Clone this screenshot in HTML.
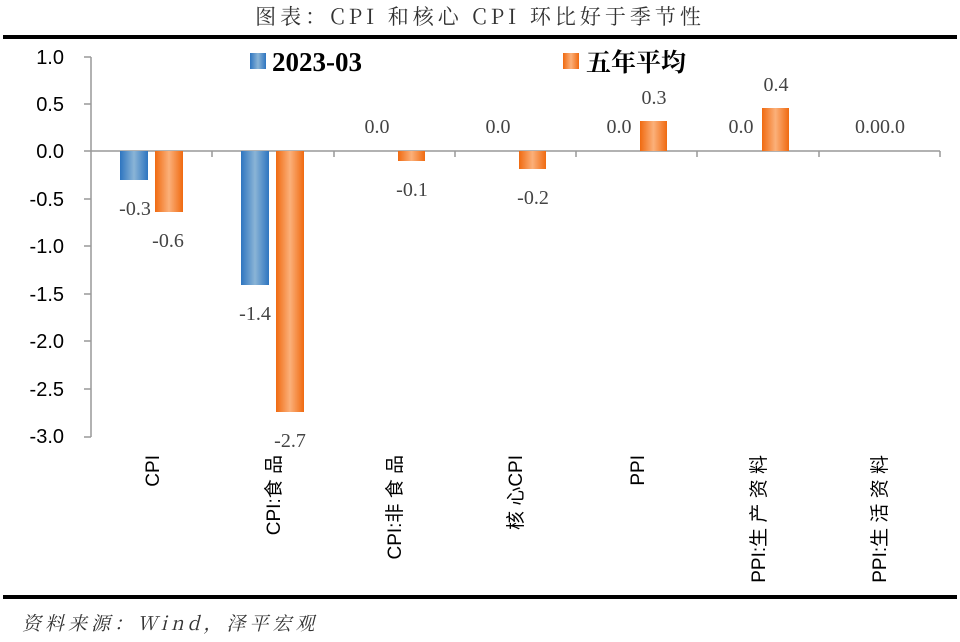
<!DOCTYPE html>
<html><head><meta charset="utf-8"><style>
body{margin:0;background:#fff;}
svg{display:block;}
</style></head><body>
<svg width="960" height="642" xmlns="http://www.w3.org/2000/svg">
<defs>
<linearGradient id="b" x1="0" x2="1" y1="0" y2="0">
<stop offset="0" stop-color="#2e75c0"/><stop offset="0.5" stop-color="#8ab4d6"/><stop offset="1" stop-color="#2e75c0"/></linearGradient>
<linearGradient id="o" x1="0" x2="1" y1="0" y2="0">
<stop offset="0" stop-color="#f06a10"/><stop offset="0.5" stop-color="#fbb07a"/><stop offset="1" stop-color="#f06a10"/></linearGradient>
</defs>
<text x="480" y="24" text-anchor="middle" font-family="'Noto Serif CJK SC','Liberation Serif',serif" font-size="21" letter-spacing="4" fill="#333">图表：CPI 和核心 CPI 环比好于季节性</text>
<rect x="3" y="35" width="954" height="4" fill="#000"/>
<rect x="3" y="595" width="954" height="4" fill="#000"/>
<text x="22" y="630" font-family="'Noto Serif CJK SC',serif" font-style="italic" font-size="19" letter-spacing="4" fill="#333">资料来源：Wind，泽平宏观</text>
<g font-family="'Liberation Sans',sans-serif" font-size="20" fill="#000" text-anchor="end">
<text x="64" y="64">1.0</text><text x="64" y="111">0.5</text><text x="64" y="158">0.0</text>
<text x="64" y="206">-0.5</text><text x="64" y="253">-1.0</text><text x="64" y="301">-1.5</text>
<text x="64" y="348">-2.0</text><text x="64" y="396">-2.5</text><text x="64" y="443">-3.0</text>
</g>
<g stroke="#999" stroke-width="1.5">
<line x1="91" y1="57" x2="91" y2="437"/>
<line x1="84" y1="57" x2="91" y2="57"/><line x1="84" y1="104" x2="91" y2="104"/><line x1="84" y1="151" x2="91" y2="151"/>
<line x1="84" y1="199" x2="91" y2="199"/><line x1="84" y1="246" x2="91" y2="246"/><line x1="84" y1="294" x2="91" y2="294"/>
<line x1="84" y1="341" x2="91" y2="341"/><line x1="84" y1="389" x2="91" y2="389"/><line x1="84" y1="437" x2="91" y2="437"/>
<line x1="91" y1="151" x2="940" y2="151"/>
<line x1="212" y1="151" x2="212" y2="157"/><line x1="334" y1="151" x2="334" y2="157"/><line x1="455" y1="151" x2="455" y2="157"/>
<line x1="576" y1="151" x2="576" y2="157"/><line x1="697" y1="151" x2="697" y2="157"/><line x1="819" y1="151" x2="819" y2="157"/><line x1="940" y1="151" x2="940" y2="157"/>
</g>
<rect x="120" y="151" width="28" height="29" fill="url(#b)"/>
<rect x="155" y="151" width="28" height="61" fill="url(#o)"/>
<rect x="241" y="151" width="28" height="134" fill="url(#b)"/>
<rect x="276" y="151" width="28" height="261" fill="url(#o)"/>
<rect x="398" y="151" width="27" height="10" fill="url(#o)"/>
<rect x="519" y="151" width="27" height="18" fill="url(#o)"/>
<rect x="640" y="121" width="27" height="30" fill="url(#o)"/>
<rect x="762" y="108" width="27" height="43" fill="url(#o)"/>
<g font-family="'Liberation Serif',serif" font-size="20" fill="#444" text-anchor="middle">
<text x="135" y="215">-0.3</text><text x="168" y="247">-0.6</text>
<text x="255" y="320">-1.4</text><text x="290" y="447">-2.7</text>
<text x="377" y="133">0.0</text><text x="412" y="196">-0.1</text>
<text x="498" y="133">0.0</text><text x="533" y="204">-0.2</text>
<text x="619" y="133">0.0</text><text x="654" y="104">0.3</text>
<text x="741" y="133">0.0</text><text x="776" y="91">0.4</text>
<text x="880" y="133">0.00.0</text>
</g>
<rect x="250" y="53" width="16" height="16" fill="url(#b)"/>
<text x="272" y="71" font-family="'Liberation Serif',serif" font-weight="bold" font-size="27" fill="#000">2023-03</text>
<rect x="563" y="53" width="16" height="16" fill="url(#o)"/>
<text x="586" y="71" font-family="'Noto Serif CJK SC',serif" font-weight="bold" font-size="25" fill="#000">五年平均</text>
<g font-family="'Liberation Sans','Noto Sans CJK SC',sans-serif" font-size="19" fill="#000" text-anchor="end">
<text transform="translate(159,455) rotate(-90)">CPI</text>
<text transform="translate(280,455) rotate(-90)">CPI:食 品</text>
<text transform="translate(401,455) rotate(-90)">CPI:非 食 品</text>
<text transform="translate(522,455) rotate(-90)">核 心CPI</text>
<text transform="translate(644,455) rotate(-90)">PPI</text>
<text transform="translate(765,455) rotate(-90)">PPI:生 产 资 料</text>
<text transform="translate(886,455) rotate(-90)">PPI:生 活 资 料</text>
</g>
</svg>
</body></html>
